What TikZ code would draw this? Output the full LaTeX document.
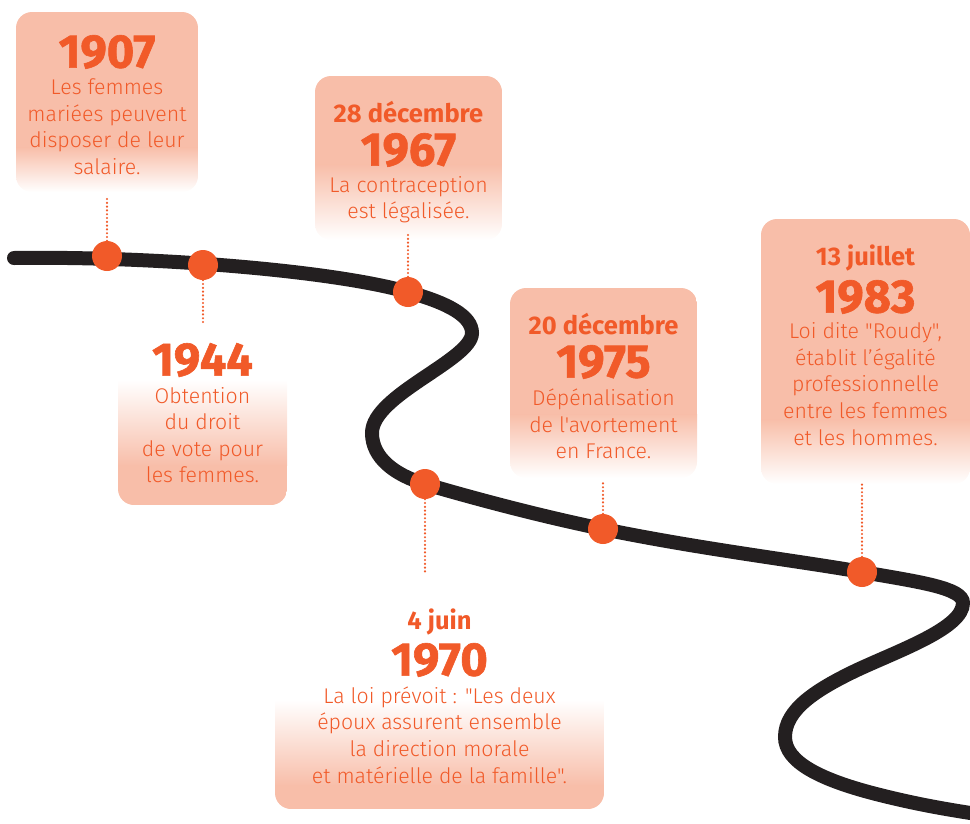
\documentclass[tikz,border=0pt]{standalone}
\usepackage{fontspec}
\newfontfamily\bodyf{Fira Sans Light}[Ligatures=TeXOff]
\newfontfamily\boldf{Fira Sans Bold}
\newfontfamily\heavyf{Fira Sans Bold}[FakeBold=1.3]
\definecolor{salmon}{HTML}{F8BEA9}
\definecolor{accent}{HTML}{F15A29}
\definecolor{ink}{HTML}{231F20}
\begin{document}
\begin{tikzpicture}[x=1pt,y=-1pt,
 yearlbl/.style={text=accent, font=\heavyf\fontsize{47}{47}\selectfont, inner sep=0},
 datelbl/.style={text=accent, font=\boldf\fontsize{25.5}{25.5}\selectfont, inner sep=0},
 bodylbl/.style={text=accent, font=\bodyf\fontsize{21.3}{26.6}\selectfont, align=center, inner sep=0},
 dot/.style={circle, fill=accent, minimum size=30pt, inner sep=0},
 dotline/.style={accent, line width=2.4pt, line cap=round, dash pattern=on 0pt off 3.8pt},
 road/.style={ink, line width=14pt, line cap=round},
 boxclip/.style={rounded corners=16pt}]
\useasboundingbox (0,0) rectangle (970,823);
\clip (0,0) rectangle (970,823);

% ---- boxes fading downward
\begin{scope}
 \clip[boxclip] (16,12) rectangle (198,192);
 \fill[salmon] (16,12) rectangle (198,148);
 \shade[top color=salmon, bottom color=white] (16,147.5) rectangle (198,192);
\end{scope}
\begin{scope}
 \clip[boxclip] (315,76) rectangle (502,240);
 \fill[salmon] (315,76) rectangle (502,165);
 \shade[top color=salmon, bottom color=white] (315,164.5) rectangle (502,240);
\end{scope}
\begin{scope}
 \clip[boxclip] (510,288) rectangle (697,478);
 \fill[salmon] (510,288) rectangle (697,415);
 \shade[top color=salmon, bottom color=white] (510,414.5) rectangle (697,478);
\end{scope}
\begin{scope}
 \clip[boxclip] (761,219) rectangle (970,484);
 \fill[salmon] (761,219) rectangle (970,420);
 \shade[top color=salmon, bottom color=white] (761,419.5) rectangle (970,484);
\end{scope}
% ---- boxes fading upward
\begin{scope}
 \clip[boxclip] (118,315) rectangle (287,505);
 \shade[top color=white, bottom color=salmon] (118,380) rectangle (287,465.5);
 \fill[salmon] (118,465) rectangle (287,505);
\end{scope}
\begin{scope}
 \clip[boxclip] (275,652) rectangle (604,809);
 \shade[top color=white, bottom color=salmon] (275,700) rectangle (604,785.5);
 \fill[salmon] (275,785) rectangle (604,809);
\end{scope}

% ---- road
\draw[road] (14,258) .. controls (150,256) and (330,270) .. (408,292)
  .. controls (448,303) and (472,316) .. (472,333)
  .. controls (472,360) and (372,395) .. (372,433)
  .. controls (372,458) and (395,475) .. (425,484)
  .. controls (490,503) and (550,518) .. (603,529)
  .. controls (700,549) and (800,561) .. (862,572)
  .. controls (920,582) and (963,588) .. (963,603)
  .. controls (963,628) and (900,650) .. (857,670)
  .. controls (815,690) and (785,710) .. (785,737)
  .. controls (785,762) and (820,780) .. (880,795)
  .. controls (920,805) and (950,810) .. (990,816);

% ---- dots
\node[dot] (d1907) at (107,256) {};
\node[dot] (d1944) at (203,265) {};
\node[dot] (d1967) at (408,292) {};
\node[dot] (d1970) at (425,484) {};
\node[dot] (d1975) at (603,529) {};
\node[dot] (d1983) at (862,572) {};

\coordinate (c1907) at (107,197);
\coordinate (c1944) at (203,323);
\coordinate (c1967) at (408,235);
\coordinate (c1970) at (425,573);
\coordinate (c1975) at (603,480);
\coordinate (c1983) at (862,484);
\draw[dotline] (d1907) -- (c1907);
\draw[dotline] (d1944) -- (c1944);
\draw[dotline] (d1967) -- (c1967);
\draw[dotline] (d1970) -- (c1970);
\draw[dotline] (d1975) -- (c1975);
\draw[dotline] (d1983) -- (c1983);

% ---- texts
\node[yearlbl] (y1907) at (107,52) {1907};
\node[bodylbl] (b1907) at (107,126.5) {Les femmes\\mariées peuvent\\disposer de leur\\salaire.};

\node[datelbl] (t1967) at (408.5,112) {28 décembre};
\node[yearlbl] (y1967) at (408.5,150) {1967};
\node[bodylbl] (b1967) at (408.5,199.5) {La contraception\\est légalisée.};

\node[yearlbl] (y1944) at (202.5,360) {1944};
\node[bodylbl] (b1944) at (202.5,435) {Obtention\\du droit\\de vote pour\\les femmes.};

\node[datelbl] (t1975) at (603.5,324) {20 décembre};
\node[yearlbl] (y1975) at (603.5,362) {1975};
\node[bodylbl] (b1975) at (603.5,424) {Dépénalisation\\de l'avortement\\en France.};

\node[datelbl] (t1983) at (865.5,258) {13 juillet};
\node[yearlbl] (y1983) at (865.5,297) {1983};
\node[bodylbl] (b1983) at (865.5,384) {Loi dite "Roudy",\\établit l’égalité\\professionnelle\\entre les femmes\\et les hommes.};

\node[datelbl] (t1970) at (439.5,622) {4 juin};
\node[yearlbl] (y1970) at (439.5,660) {1970};
\node[bodylbl] (b1970) at (439.5,735) {La loi prévoit : "Les deux\\époux assurent ensemble\\la direction morale\\et matérielle de la famille".};
\end{tikzpicture}
\end{document}
